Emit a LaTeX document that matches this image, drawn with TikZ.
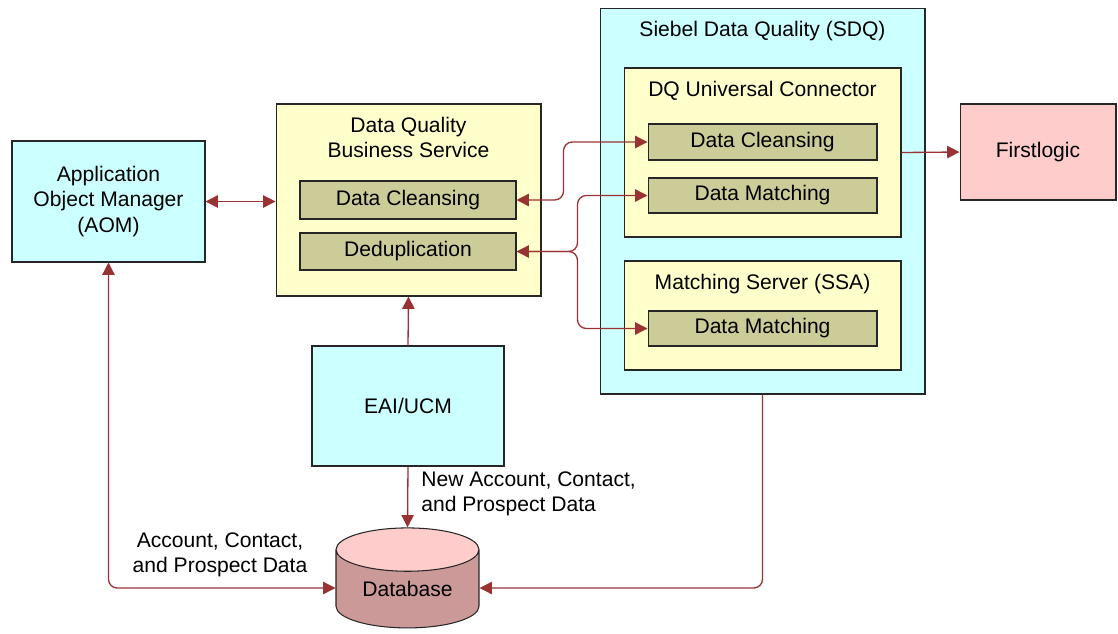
\documentclass[tikz,border=0pt]{standalone}
\usepackage{fontspec}
\setmainfont{Liberation Sans}
\usepackage{tikz}
\usetikzlibrary{calc, positioning, shapes.geometric, arrows.meta}
\definecolor{aqua}{HTML}{CCFFFF}
\definecolor{cream}{HTML}{FFFFCC}
\definecolor{olive}{HTML}{CCCC99}
\definecolor{rose}{HTML}{FFCCCC}
\definecolor{dbbody}{HTML}{CC9999}
\definecolor{linkred}{HTML}{993333}
\tikzstyle{link} = [draw=linkred, line width=0.75pt, rounded corners=5pt, >={Triangle[length=7pt,width=7pt]}]

\begin{document}
\begin{tikzpicture}[x=0.02cm, y=-0.02cm,
    every node/.style={font=\fontsize{12}{14.5}\selectfont},
    box/.style={draw=black!85, line width=0.6pt, inner sep=0pt, align=center},
    outer/.style={box, fill=aqua},
    group/.style={box, fill=cream},
    part/.style={box, fill=olive, minimum width=4.58cm},
    title/.style={inner sep=0pt, align=center, below=7.5pt of #1},
    tag/.style={inner sep=0pt, align=center},
  ]
  \useasboundingbox (0,0) rectangle (1118,633);

  \node[outer, minimum width=3.86cm, minimum height=2.42cm] (aom) at (108.5,201.5) {Application\\Object Manager\\(AOM)};

  \node[group, minimum width=5.3cm, minimum height=3.84cm] (dqbs) at (408.5,200) {};
  \node[title=dqbs.north] (dqbstitle) {Data Quality\\Business Service};
  \node[part, minimum width=4.32cm, minimum height=0.76cm] (dqclean) at (408,200) {Data Cleansing};
  \node[part, minimum width=4.32cm, minimum height=0.74cm] (dedup) at (408,251.5) {Deduplication};

  \node[outer, minimum width=3.84cm, minimum height=2.4cm] (eai) at (408,406) {EAI/UCM};

  \node[outer, minimum width=6.5cm, minimum height=7.72cm] (sdq) at (762.5,201) {};
  \node[title=sdq.north] (sdqtitle) {Siebel Data Quality (SDQ)};
  \node[group, minimum width=5.54cm, minimum height=3.38cm] (dquc) at (762.5,152.5) {};
  \node[title=dquc.north] (dquctitle) {DQ Universal Connector};
  \node[part, minimum height=0.72cm] (sdqclean) at (762.5,142) {Data Cleansing};
  \node[part, minimum height=0.7cm] (sdqmatch) at (762.5,195.5) {Data Matching};
  \node[group, minimum width=5.54cm, minimum height=2.18cm] (ssa) at (762.5,315.5) {};
  \node[title=ssa.north] (ssatitle) {Matching Server (SSA)};
  \node[part, minimum height=0.7cm] (ssamatch) at (762.5,328.5) {Data Matching};

  \node[box, fill=rose, minimum width=3.12cm, minimum height=1.92cm] (first) at (1038,152) {Firstlogic};

  \node[cylinder, shape border rotate=90, aspect=0.48, draw=black!85, line width=0.6pt,
    cylinder uses custom fill, cylinder body fill=dbbody, cylinder end fill=rose,
    minimum width=2.86cm, minimum height=2cm, inner sep=0pt] (db) at (407.5,589) {\raisebox{-6pt}{Database}};

  \node[tag] (oldlbl) at (220,555) {Account, Contact,\\and Prospect Data};
  \node[tag, align=left, anchor=west] (newlbl) at (421,494) {New Account, Contact,\\and Prospect Data};

  \draw[link, <->] (aom.east) -- (aom.east -| dqbs.west);
  \draw[link, <->] (aom.south) |- (db.west |- 0,588);
  \draw[link, ->] (eai.north) -- (dqbs.south);
  \draw[link, ->] (eai.south) -- (db.north);
  \draw[link, ->] (sdq.south) |- (db.east |- 0,588);
  \draw[link, ->] (dquc.east) -- (first.west);
  \draw[link, <->] (dqclean.east) -- ++(47,0) |- (sdqclean.west);
  \draw[link, <->] (dedup.east) -- ++(61,0) |- (sdqmatch.west);
  \draw[link, ->] (dedup.east) -- ++(61,0) |- (ssamatch.west);
\end{tikzpicture}
\end{document}
